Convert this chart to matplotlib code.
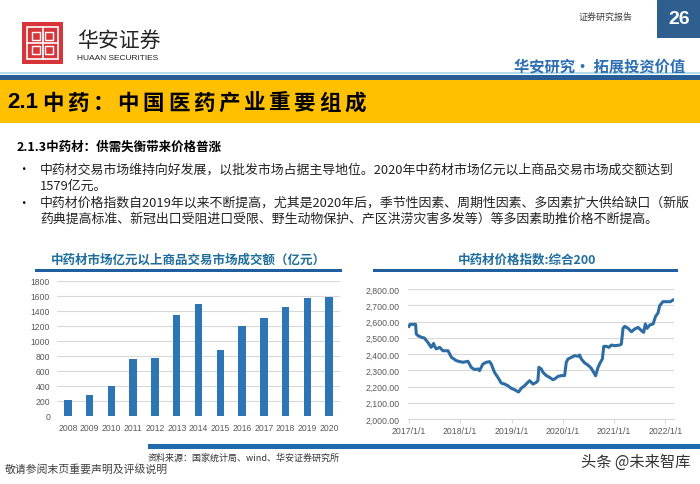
import matplotlib
matplotlib.use('Agg')
import matplotlib.pyplot as plt
import matplotlib.patches as patches
import pandas as pd

plt.rcParams['font.family'] = ['Noto Sans CJK SC', 'DejaVu Sans']

# données du graphique de gauche (亿元)
years = ['2008', '2009', '2010', '2011', '2012', '2013', '2014',
         '2015', '2016', '2017', '2018', '2019', '2020']
trade_value = [212, 285, 398, 763, 776, 1345, 1484, 884, 1203, 1298, 1455, 1573, 1579]

# indice des prix : 综合200
index_dates = ['2017-01-01', '2017-01-08', '2017-02-17', '2017-02-22', '2017-03-06', '2017-03-30',
               '2017-04-21', '2017-05-15', '2017-06-08', '2017-06-25', '2017-07-01', '2017-07-14',
               '2017-08-07', '2017-08-31', '2017-10-06', '2017-10-30', '2017-12-04', '2017-12-28',
               '2018-01-20', '2018-02-25', '2018-03-20', '2018-04-13', '2018-05-07', '2018-05-18',
               '2018-06-11', '2018-07-05', '2018-07-29', '2018-08-10', '2018-09-02', '2018-09-26',
               '2018-10-20', '2018-11-13', '2018-12-06', '2018-12-30', '2019-01-23', '2019-02-20',
               '2019-03-11', '2019-04-04', '2019-04-28', '2019-05-10', '2019-06-03', '2019-06-27',
               '2019-07-08', '2019-07-15', '2019-08-01', '2019-08-13', '2019-09-06', '2019-09-29',
               '2019-10-23', '2019-11-04', '2019-11-28', '2019-12-21', '2020-01-14', '2020-01-26',
               '2020-02-07', '2020-03-02', '2020-03-25', '2020-04-18', '2020-04-30', '2020-05-12',
               '2020-06-05', '2020-06-28', '2020-07-22', '2020-08-15', '2020-08-22', '2020-09-08',
               '2020-09-25', '2020-10-09', '2020-10-19', '2020-11-06', '2020-11-25', '2020-12-12',
               '2021-01-05', '2021-02-09', '2021-02-21', '2021-03-05', '2021-03-17', '2021-04-10',
               '2021-05-04', '2021-05-27', '2021-06-20', '2021-07-14', '2021-07-30', '2021-08-11',
               '2021-08-23', '2021-09-11', '2021-10-05', '2021-10-23', '2021-11-09', '2021-11-21',
               '2021-12-14', '2022-01-07', '2022-02-05', '2022-02-24']
index_values = [2570, 2582, 2583, 2523, 2513, 2503,
                2498, 2472, 2441, 2465, 2450, 2431,
                2441, 2420, 2420, 2380, 2359, 2353,
                2349, 2355, 2318, 2304, 2308, 2297,
                2338, 2349, 2353, 2338, 2287, 2256,
                2221, 2215, 2205, 2189, 2180, 2166,
                2189, 2205, 2226, 2236, 2215, 2226,
                2236, 2318, 2308, 2287, 2267, 2256,
                2242, 2246, 2262, 2267, 2267, 2349,
                2369, 2379, 2390, 2386, 2394, 2369,
                2345, 2332, 2312, 2277, 2266, 2318,
                2349, 2369, 2447, 2447, 2441, 2455,
                2451, 2455, 2461, 2558, 2570, 2558,
                2537, 2554, 2564, 2544, 2533, 2585,
                2558, 2578, 2585, 2632, 2652, 2697,
                2722, 2722, 2722, 2732]
index_ticks = ['2017-01-01', '2018-01-01', '2019-01-01', '2020-01-01', '2021-01-01', '2022-01-01']

W, H = 700, 485
fig = plt.figure(figsize=(7, 4.85), dpi=100)


def fx(x):
    return x / W


def fy(y):
    return 1 - y / H


def rect(x0, y0, x1, y1, color):
    # rectangle en pixels (origine en haut à gauche)
    fig.add_artist(patches.Rectangle((fx(x0), fy(y1)), fx(x1 - x0), (y1 - y0) / H,
                                     transform=fig.transFigure, color=color, lw=0))


def line(x0, x1, y, color, lw):
    fig.add_artist(plt.Line2D([fx(x0), fx(x1)], [fy(y), fy(y)], transform=fig.transFigure,
                              color=color, lw=lw, solid_capstyle='butt'))


def text(x, y, s, **kw):
    fig.text(fx(x), fy(y), s, **kw)


# --- en-tête ---
rect(22, 23, 63, 65, '#D8353B')
# motif blanc du logo
fig.add_artist(patches.Rectangle((fx(27), fy(60)), fx(31), 32 / H, transform=fig.transFigure,
                                 fill=False, ec='white', lw=1.2))
fig.add_artist(plt.Line2D([fx(42.5), fx(42.5)], [fy(28), fy(60)], transform=fig.transFigure, color='white', lw=1.2))
fig.add_artist(plt.Line2D([fx(27), fx(58)], [fy(44), fy(44)], transform=fig.transFigure, color='white', lw=1.2))
for (a, b, c, d) in [(32, 33, 40, 41), (45, 33, 53, 41), (32, 47, 40, 55), (45, 47, 53, 55)]:
    fig.add_artist(patches.Rectangle((fx(a), fy(d)), fx(c - a), (d - b) / H, transform=fig.transFigure,
                                     fill=False, ec='white', lw=1.0))

text(77, 41, '华安证券', fontsize=15, color='#222222', va='center', ha='left')
text(77, 59, 'HUAAN SECURITIES', fontsize=6, color='#222222', va='center', ha='left',
     family=['Liberation Sans', 'DejaVu Sans'])

text(606, 17, '证券研究报告', fontsize=6.5, color='#404040', va='center', ha='center')
rect(657, 0, 700, 39, '#2F5F8F')
text(679, 20, '26', fontsize=14, color='white', fontweight='bold', va='center', ha='center',
     family=['Liberation Sans', 'DejaVu Sans'])

text(685, 66, '华安研究• 拓展投资价值', fontsize=11, color='#2E6FB4', fontweight='bold', va='center', ha='right')

line(0, 700, 74, '#A8D8E6', 1.2)
rect(0, 75.5, 700, 80.5, '#2A5C96')
rect(0, 81, 700, 124, '#FFC000')
# titre : caractères espacés comme dans la diapo
text(7, 103, '2.1', fontsize=16, color='black', fontweight='bold', va='center', ha='left',
     family=['Liberation Sans', 'DejaVu Sans'])
for i, ch in enumerate('中药：中国医药产业重要组成'):
    text(42 + i * 25.2, 103, ch, fontsize=15.5, color='black', fontweight='bold', va='center', ha='left')

# --- texte ---
text(17, 147, '2.1.3中药材：供需失衡带来价格普涨', fontsize=9, color='black', fontweight='bold', va='center')
text(17, 170, '•', fontsize=9, color='black', va='center')
text(40, 170, '中药材交易市场维持向好发展，以批发市场占据主导地位。2020年中药材市场亿元以上商品交易市场成交额达到',
     fontsize=9.3, color='#222222', va='center')
text(40, 186, '1579亿元。', fontsize=9.3, color='#222222', va='center')
text(17, 203, '•', fontsize=9, color='black', va='center')
text(40, 203, '中药材价格指数自2019年以来不断提高，尤其是2020年后，季节性因素、周期性因素、多因素扩大供给缺口（新版',
     fontsize=9.3, color='#222222', va='center')
text(40, 219, '药典提高标准、新冠出口受阻进口受限、野生动物保护、产区洪涝灾害多发等）等多因素助推价格不断提高。',
     fontsize=9.3, color='#222222', va='center')

# --- titres des graphiques ---
text(188, 260, '中药材市场亿元以上商品交易市场成交额（亿元）', fontsize=9, color='#1F6E9E',
     fontweight='bold', va='center', ha='center')
rect(35, 270, 342, 273, '#1F5F9F')
text(527, 260, '中药材价格指数:综合200', fontsize=9, color='#1F6E9E',
     fontweight='bold', va='center', ha='center')
rect(373, 270, 678, 273, '#1F5F9F')

# --- graphique à barres ---
ax1 = fig.add_axes([fx(57), fy(417), fx(340 - 57), (417 - 281.7) / H])
ax1.bar(range(len(years)), trade_value, width=0.34, color='#2E75B6')
ax1.set_xlim(-0.5, len(years) - 0.5)
ax1.set_ylim(0, 1800)
ax1.set_yticks(range(0, 1801, 200))
ax1.set_xticks(range(len(years)))
ax1.set_xticklabels(years)
ax1.grid(axis='y', color='#D9D9D9', lw=0.8)
ax1.set_axisbelow(True)
for s in ax1.spines.values():
    s.set_visible(False)
ax1.tick_params(length=0, labelsize=6.2, labelcolor='#595959', pad=5)
for lab in ax1.get_xticklabels() + ax1.get_yticklabels():
    lab.set_family(['Liberation Sans', 'DejaVu Sans'])

# --- graphique en ligne ---
ax2 = fig.add_axes([fx(408), fy(420), fx(674 - 408), (420 - 290) / H])
ax2.plot(pd.to_datetime(index_dates), index_values, color='#2E6DA4', lw=2.2)
ax2.set_xlim(pd.Timestamp('2016-12-25'), pd.Timestamp('2022-03-03'))
ax2.set_ylim(2000, 2800)
ax2.set_yticks(range(2000, 2801, 100))
ax2.yaxis.set_major_formatter(matplotlib.ticker.FuncFormatter(lambda v, p: f'{v:,.2f}'))
ax2.set_xticks(pd.to_datetime(index_ticks))
ax2.set_xticklabels([d.strftime('%Y/%-m/%-d') for d in pd.to_datetime(index_ticks)])
ax2.grid(axis='y', color='#D9D9D9', lw=0.8)
ax2.set_axisbelow(True)
for s in ax2.spines.values():
    s.set_visible(False)
ax2.spines['bottom'].set_visible(True)
ax2.spines['bottom'].set_color('#D9D9D9')
ax2.tick_params(axis='y', length=0, labelsize=6.3, labelcolor='#595959', pad=6)
ax2.tick_params(axis='x', length=3, color='#D9D9D9', labelsize=6.3, labelcolor='#595959', pad=2)
for lab in ax2.get_xticklabels() + ax2.get_yticklabels():
    lab.set_family(['Liberation Sans', 'DejaVu Sans'])

# --- pied de page ---
rect(148, 445, 700, 449.5, '#1F6BAE')
text(148, 458, '资料来源：国家统计局、wind、华安证券研究所', fontsize=6.5, color='#333333', va='center')
text(5, 469, '敬请参阅末页重要声明及评级说明', fontsize=7.8, color='#404040', va='center')
text(690, 462, '头条 @未来智库', fontsize=11, color='#333333', va='center', ha='right')

fig.savefig('out.png', dpi=100)
